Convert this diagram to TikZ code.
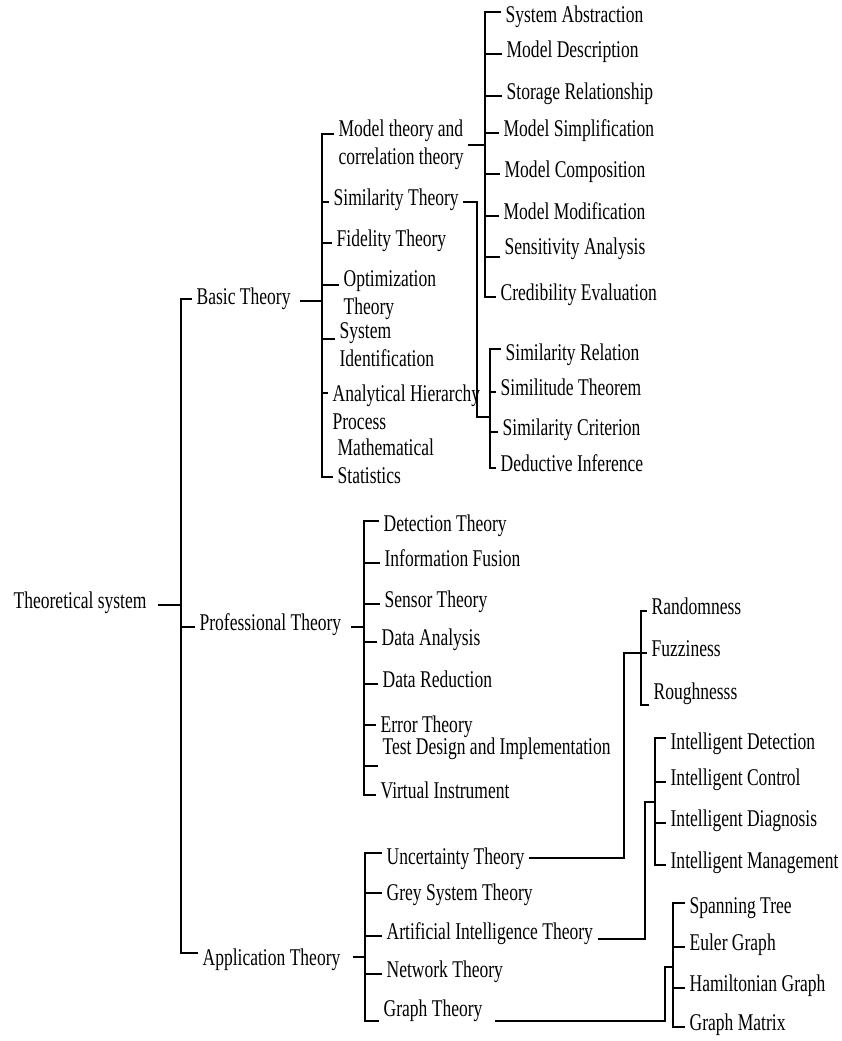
\documentclass[tikz,border=0pt]{standalone}
\usepackage{fontspec}
\setmainfont{Liberation Serif}[FakeStretch=0.73]

\begin{document}
\begin{tikzpicture}[x=1pt, y=-1pt, line width=1.3pt,
  every node/.style = {font=\fontsize{24}{28}\selectfont},
  item/.style = {anchor=west, inner xsep=4pt, inner ysep=0pt, text height=0.66em, text depth=0pt},
  item2/.style = {anchor=west, inner xsep=4pt, inner ysep=0pt, align=left}]
\useasboundingbox (0,0) rectangle (842,1041);

\node[item] (ts) at (9,605) {Theoretical system};
\node[item] (basic) at (192,301) {Basic Theory};
\node[item] (prof) at (195,627) {Professional Theory};
\node[item] (app) at (198,962) {Application Theory};

\node[item2] (b1) at (334,145) {Model theory and\\correlation theory};
\node[item] (b2) at (329,202) {Similarity Theory};
\node[item] (b3) at (332,243) {Fidelity Theory};
\node[item2] (b4) at (339,295) {Optimization\\Theory};
\node[item2] (b5) at (335,345) {System\\Identification};
\node[item2] (b6) at (328,407) {Analytical Hierarchy\\Process};
\node[item2] (b7) at (333,461) {Mathematical\\Statistics};

\node[item] (m1) at (501,19) {System Abstraction};
\node[item] (m2) at (502,54) {Model Description};
\node[item] (m3) at (502,96) {Storage Relationship};
\node[item] (m4) at (499,133) {Model Simplification};
\node[item] (m5) at (500,174) {Model Composition};
\node[item] (m6) at (499,216) {Model Modification};
\node[item] (m7) at (500,251) {Sensitivity Analysis};
\node[item] (m8) at (496,297) {Credibility Evaluation};

\node[item] (s1) at (501,357) {Similarity Relation};
\node[item] (s2) at (496,392) {Similitude Theorem};
\node[item] (s3) at (498,432) {Similarity Criterion};
\node[item] (s4) at (496,468) {Deductive Inference};

\node[item] (p1) at (379,528) {Detection Theory};
\node[item] (p2) at (380,563) {Information Fusion};
\node[item] (p3) at (380,604) {Sensor Theory};
\node[item] (p4) at (377,642) {Data Analysis};
\node[item] (p5) at (378,684) {Data Reduction};
\node[item] (p6) at (376,729) {Error Theory};
\node[item] (p7) at (378,751) {Test Design and Implementation};
\node[item] (p8) at (376,795) {Virtual Instrument};

\node[item] (a1) at (382,861) {Uncertainty Theory};
\node[item] (a2) at (382,897) {Grey System Theory};
\node[item] (a3) at (382,936) {Artificial Intelligence Theory};
\node[item] (a4) at (382,974) {Network Theory};
\node[item] (a5) at (379,1013) {Graph Theory};

\node[item] (u1) at (647,611) {Randomness};
\node[item] (u2) at (647,653) {Fuzziness};
\node[item] (u3) at (649,696) {Roughnesss};

\node[item] (i1) at (666,746) {Intelligent Detection};
\node[item] (i2) at (666,782) {Intelligent Control};
\node[item] (i3) at (666,823) {Intelligent Diagnosis};
\node[item] (i4) at (666,865) {Intelligent Management};

\node[item] (g1) at (685,910) {Spanning Tree};
\node[item] (g2) at (685,947) {Euler Graph};
\node[item] (g3) at (685,988) {Hamiltonian Graph};
\node[item] (g4) at (685,1027) {Graph Matrix};

\coordinate (j0) at (181,605);
\coordinate (jb) at (322,301);
\coordinate (jp) at (364,626);
\coordinate (ja) at (365,957);
\coordinate (jm) at (485,144);
\coordinate (js) at (490,417);
\coordinate (ju) at (641,653);
\coordinate (ji) at (655,802);
\coordinate (jg) at (673,967);

\draw ([xshift=7pt]ts.east) -- (j0);
\draw ([yshift=2pt]basic.west) -| (j0) |- ([yshift=9pt]app.west);
\draw (prof.west) -- (prof.west -| j0);

\draw ([xshift=5pt]basic.east) -- (jb);
\draw ([yshift=11pt]b1.west) -| (jb) |- ([yshift=-16pt]b7.west);
\draw (b2.west) -- (b2.west -| jb);
\draw (b3.west) -- (b3.west -| jb);
\draw ([yshift=10pt]b4.west -| jb) -- ([yshift=10pt]b4.west);
\draw ([yshift=6pt]b5.west -| jb) -- ([yshift=6pt]b5.west);
\draw ([yshift=14pt]b6.west -| jb) -- ([yshift=14pt]b6.west);

\draw (b1.east) -- (b1.east -| jm);
\draw ([yshift=7pt]m1.west) -| (jm) |- (m8.west);
\draw (m2.west) -- (m2.west -| jm);
\draw (m3.west) -- (m3.west -| jm);
\draw (m4.west) -- (m4.west -| jm);
\draw (m5.west) -- (m5.west -| jm);
\draw (m6.west) -- (m6.west -| jm);
\draw ([yshift=-6pt]m7.west -| jm) -- ([yshift=-6pt]m7.west);

\draw (b2.east) -| ([xshift=-13pt]js) -- (js);
\draw ([yshift=8pt]s1.west) -| (js) |- (s4.west);
\draw (s2.west) -- (s2.west -| js);
\draw (s3.west) -- (s3.west -| js);

\draw ([xshift=5pt]prof.east) -- (prof.east -| jp);
\draw ([yshift=7pt]p1.west) -| (jp) |- (p8.west);
\draw (p2.west) -- (p2.west -| jp);
\draw (p3.west) -- (p3.west -| jp);
\draw (p4.west) -- (p4.west -| jp);
\draw (p5.west) -- (p5.west -| jp);
\draw ([yshift=4pt]p6.west -| jp) -- ([yshift=4pt]p6.west);
\draw ([yshift=-15pt]p7.west -| jp) -- ([yshift=-15pt]p7.west);

\draw ([xshift=8pt,yshift=5pt]app.east) -- ([yshift=5pt]app.east -| ja);
\draw ([yshift=8pt]a1.west) -| (ja) |- ([yshift=-8pt]a5.west);
\draw ([yshift=4pt]a2.west -| ja) -- ([yshift=4pt]a2.west);
\draw (a3.west) -- (a3.west -| ja);
\draw (a4.west) -- (a4.west -| ja);

\draw ([yshift=3pt]a1.east) -| ([xshift=-17pt]ju) -- (ju);
\draw (u1.west) -| (ju) |- ([yshift=-9pt]u3.west);
\draw (u2.west) -- (u2.west -| ju);

\draw ([yshift=-3pt]a3.east) -| ([xshift=-10pt]ji) -- (ji);
\draw ([yshift=8pt]i1.west) -| (ji) |- (i4.west);
\draw (i2.west) -- (i2.west -| ji);
\draw (i3.west) -- (i3.west -| ji);

\draw ([xshift=8pt,yshift=-8pt]a5.east) -| ([xshift=-8pt]jg) -- (jg);
\draw ([yshift=7pt]g1.west) -| (jg) |- (g4.west);
\draw (g2.west) -- (g2.west -| jg);
\draw (g3.west) -- (g3.west -| jg);
\end{tikzpicture}
\end{document}
